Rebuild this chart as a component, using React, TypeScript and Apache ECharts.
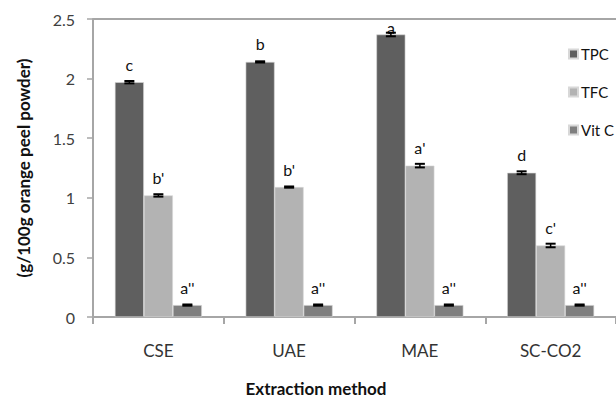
import React, { useEffect, useRef } from "react";
import * as echarts from "echarts";

const categories = ["CSE", "UAE", "MAE", "SC-CO2"];
const seriesNames = ["TPC", "TFC", "Vit C"];
const tpcValues = [1.97, 2.14, 2.37, 1.21];
const tfcValues = [1.02, 1.09, 1.27, 0.6];
const vitcValues = [0.1, 0.1, 0.1, 0.1];
const tpcErrors = [0.01, 0.005, 0.015, 0.012];
const tfcErrors = [0.01, 0.005, 0.015, 0.015];
const vitcErrors = [0.005, 0.005, 0.005, 0.005];
const tpcLetters = ["c", "b", "a", "d"];
const tfcLetters = ["b'", "b'", "a'", "c'"];
const vitcLetters = ["a''", "a''", "a''", "a''"];
const yTicks = [0, 0.5, 1, 1.5, 2, 2.5];

const FONT = "Lato, 'Open Sans', sans-serif";
const colors = ["#5f5f5f", "#b3b3b3", "#7f7f7f"];
const BAR_W = 29;

export default function App() {
  const ref = useRef<HTMLDivElement>(null);

  useEffect(() => {
    if (!ref.current) return;
    const chart = echarts.init(ref.current, null, { renderer: "svg" });

    const values = [tpcValues, tfcValues, vitcValues];
    const errors = [tpcErrors, tfcErrors, vitcErrors];
    const letters = [tpcLetters, tfcLetters, vitcLetters];

    const errData: number[][] = [];
    values.forEach((vals, s) =>
      vals.forEach((v, c) => errData.push([c, s, v, errors[s][c]]))
    );

    const barSeries = values.map((vals, s) => ({
      type: "bar",
      name: seriesNames[s],
      barWidth: BAR_W,
      barGap: "0%",
      itemStyle: { color: colors[s], borderColor: "#d8d8d8", borderWidth: 0.6 },
      data: vals.map((v) => {
        const isClipped = s === 0 && v >= 2.3;
        return {
          value: v,
          label: isClipped ? { distance: -1 } : undefined,
        };
      }),
      label: {
        show: true,
        position: "top",
        distance: 10,
        fontFamily: FONT,
        fontSize: 16,
        color: "#111",
        formatter: (p: any) => letters[s][p.dataIndex],
      },
      markLine:
        s === 0
          ? {
              silent: true,
              symbol: "none",
              label: { show: false },
              lineStyle: { color: "#a6a6a6", width: 2, type: "solid" },
              data: [{ yAxis: yTicks[yTicks.length - 1] }],
            }
          : undefined,
    }));

    const option: any = {
      animation: false,
      textStyle: { fontFamily: FONT },
      grid: { left: 93, right: -9, top: 19, bottom: 81 },
      legend: {
        orient: "vertical",
        left: 563,
        top: 41,
        itemWidth: 9,
        itemHeight: 9,
        itemGap: 22,
        icon: "rect",
        data: seriesNames,
        textStyle: {
          fontFamily: FONT,
          fontSize: 15,
          lineHeight: 16,
          color: "#111",
          padding: [0, 0, 0, -2],
        },
      },
      xAxis: {
        type: "category",
        data: categories,
        axisLine: { lineStyle: { color: "#a6a6a6", width: 2 } },
        axisTick: { show: true, length: 7, lineStyle: { color: "#a6a6a6", width: 2 } },
        axisLabel: { fontFamily: FONT, fontSize: 17, color: "#333", margin: 25 },
      },
      yAxis: {
        type: "value",
        min: 0,
        max: 2.5,
        interval: 0.5,
        name: "(g/100g orange peel powder)",
        nameLocation: "middle",
        nameRotate: 90,
        nameGap: 61,
        nameTextStyle: { fontFamily: FONT, fontSize: 17, fontWeight: "bold", color: "#111" },
        axisLine: { show: true, lineStyle: { color: "#a6a6a6", width: 2 } },
        axisTick: { show: true, length: 6, lineStyle: { color: "#a6a6a6", width: 1.5 } },
        splitLine: { show: false },
        axisLabel: {
          fontFamily: FONT,
          fontSize: 16,
          color: "#404040",
          margin: 18,
          formatter: (v: number) => String(v),
        },
      },
      graphic: [
        {
          type: "text",
          x: 316,
          y: 388,
          style: {
            text: "Extraction method",
            font: `bold 17px ${FONT}`,
            fill: "#111",
            align: "center",
            verticalAlign: "middle",
            textAlign: "center",
            textVerticalAlign: "middle",
          },
        },
      ],
      series: [
        ...barSeries,
        {
          type: "custom",
          name: "errors",
          silent: true,
          z: 5,
          encode: { x: 0, y: 2 },
          data: errData,
          renderItem: (params: any, api: any) => {
            const c = api.value(0);
            const s = api.value(1);
            const v = api.value(2);
            const e = api.value(3);
            const center = api.coord([c, v]);
            const x = center[0] + (s - 1) * BAR_W;
            const yTop = api.coord([c, v + e])[1];
            const yBot = api.coord([c, v - e])[1];
            const st = { stroke: "#000", lineWidth: 2 };
            return {
              type: "group",
              children: [
                { type: "line", shape: { x1: x, y1: yTop, x2: x, y2: yBot }, style: { stroke: "#000", lineWidth: 1.5 } },
                { type: "line", shape: { x1: x - 5, y1: yTop, x2: x + 5, y2: yTop }, style: st },
                { type: "line", shape: { x1: x - 5, y1: yBot, x2: x + 5, y2: yBot }, style: st },
              ],
            };
          },
        },
      ],
    };

    chart.setOption(option);
    return () => chart.dispose();
  }, []);

  return (
    <div
      ref={ref}
      style={{ position: "fixed", left: 0, top: 0, width: 616, height: 398, background: "#fff" }}
    />
  );
}
